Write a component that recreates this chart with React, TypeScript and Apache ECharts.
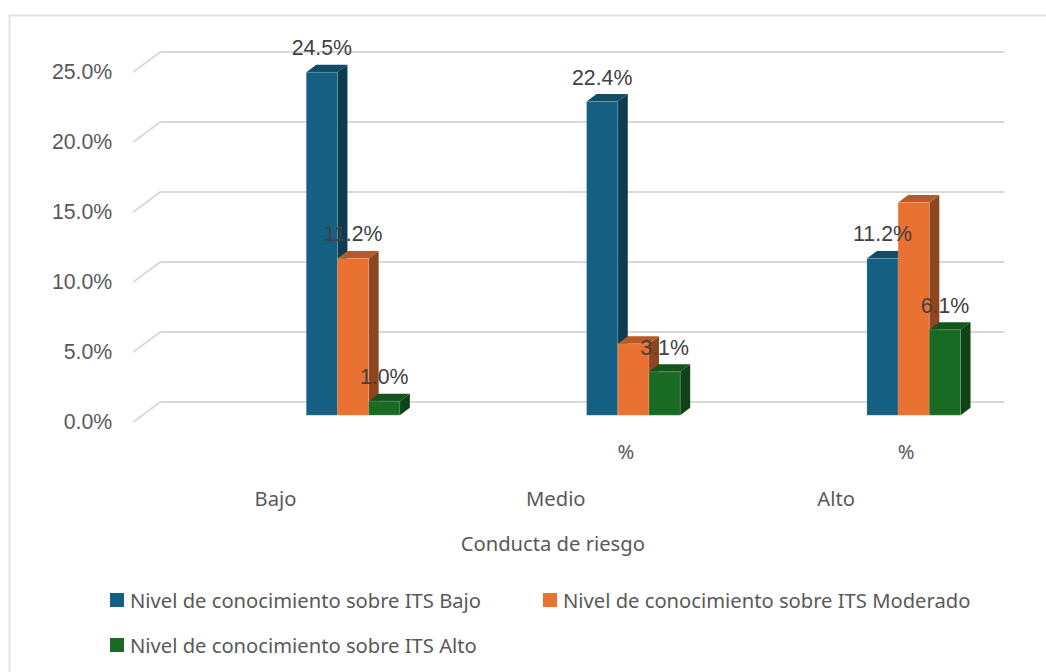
import React, { useEffect, useRef } from "react";
import * as echarts from "echarts";

const subCategories = ["", "", "", "%", "", "%"];
const categories = ["Bajo", "Medio", "Alto"];
const slots = [1, 3, 5];
const seriesNames = [
  "Nivel de conocimiento sobre ITS Bajo",
  "Nivel de conocimiento sobre ITS Moderado",
  "Nivel de conocimiento sobre ITS Alto",
];
const valuesBajo = [24.5, 22.4, 11.2];
const valuesModerado = [11.2, 5.1, 15.2];
const valuesAlto = [1.0, 3.1, 6.1];
const labelsBajo = [true, true, true];
const labelsModerado = [true, false, false];
const labelsAlto = [true, true, true];
const valueTicks = [0, 5, 10, 15, 20, 25];

const faces = [
  { front: "#156082", top: "#114c67", side: "#0d3c51" },
  { front: "#e97132", top: "#b85928", side: "#8f451f" },
  { front: "#196b24", top: "#14551c", side: "#0f4216" },
];
const TEXT_FONT = "'Noto Sans', sans-serif";
const NUM_FONT = "'Liberation Sans', sans-serif";

const BAR_W = 31.2;
const DX = 10;
const DY = 7.5;
const PLANE_DX = 7.5;
const PLANE_DY = 6.8;

function barSeries(index: number, values: number[], flags: boolean[]) {
  const face = faces[index];
  return {
    type: "custom",
    name: seriesNames[index],
    coordinateSystem: "cartesian2d",
    xAxisIndex: 0,
    yAxisIndex: 0,
    itemStyle: { color: face.front },
    encode: { x: 0, y: 1 },
    data: values.map((v, i) => [slots[i], v, flags[i] ? 1 : 0]),
    renderItem: (_p: any, api: any) => {
      const slot = api.value(0);
      const val = api.value(1);
      const show = api.value(2);
      const top = api.coord([slot, val]);
      const base = api.coord([slot, 0]);
      const x0 = top[0] + PLANE_DX + (index - 1.5) * BAR_W;
      const x1 = x0 + BAR_W;
      const y0 = top[1] - PLANE_DY;
      const y1 = base[1] - PLANE_DY;
      const children: any[] = [
        {
          type: "polygon",
          shape: { points: [[x1, y0], [x1 + DX, y0 - DY], [x1 + DX, y1 - DY], [x1, y1]] },
          style: { fill: face.side },
        },
        {
          type: "polygon",
          shape: { points: [[x0, y0], [x0 + DX, y0 - DY], [x1 + DX, y0 - DY], [x1, y0]] },
          style: { fill: face.top },
        },
        {
          type: "rect",
          shape: { x: x0, y: y0, width: BAR_W, height: y1 - y0 },
          style: { fill: face.front, stroke: "rgba(255,255,255,0.25)", lineWidth: 0.6 },
        },
      ];
      if (show) {
        children.push({
          type: "text",
          z2: 100,
          style: {
            text: val.toFixed(1) + "%",
            x: x0 + BAR_W / 2,
            y: y0 - 24,
            align: "center",
            verticalAlign: "middle",
            fill: "#404040",
            font: `21.3px ${NUM_FONT}`,
          },
        });
      }
      return { type: "group", children };
    },
  };
}

const wallSeries = {
  type: "custom",
  name: "wall",
  coordinateSystem: "cartesian2d",
  xAxisIndex: 0,
  yAxisIndex: 0,
  silent: true,
  z: 1,
  encode: { y: 0 },
  data: valueTicks.map((t) => [0, t]),
  renderItem: (p: any, api: any) => {
    const y = api.coord([0, api.value(1)])[1];
    const sys = p.coordSys;
    return {
      type: "polyline",
      shape: {
        points: [
          [sys.x - 2, y],
          [sys.x + 25, y - 20],
          [sys.x + sys.width + 28, y - 20],
        ],
      },
      style: { stroke: "#d9d9d9", lineWidth: 2, fill: "none" },
    };
  },
};

export default function App() {
  const ref = useRef<HTMLDivElement>(null);
  useEffect(() => {
    const chart = echarts.init(ref.current!, undefined, { renderer: "svg" });
    const legendBase = {
      orient: "horizontal",
      icon: "rect",
      itemWidth: 14,
      itemHeight: 14,
      padding: 0,
      textStyle: { color: "#595959", fontFamily: TEXT_FONT, fontSize: 20.2, padding: [0, 0, 0, 1] },
    };
    chart.setOption({
      animation: false,
      backgroundColor: "#ffffff",
      graphic: [
        {
          type: "rect",
          silent: true,
          shape: { x: 9.5, y: 15.5, width: 1100, height: 720 },
          style: { fill: "none", stroke: "#e2e2e2", lineWidth: 2 },
        },
      ],
      grid: { left: 135.3, top: 72, width: 841, height: 350 },
      legend: [
        { ...legendBase, left: 110, top: 590, data: [seriesNames[0]] },
        { ...legendBase, left: 543, top: 590, data: [seriesNames[1]] },
        { ...legendBase, left: 110, top: 635, data: [seriesNames[2]] },
      ],
      xAxis: [
        {
          type: "category",
          position: "bottom",
          data: subCategories,
          axisLine: { show: false },
          axisTick: { show: false },
          axisLabel: { interval: 0, margin: 19, color: "#595959", fontFamily: TEXT_FONT, fontSize: 20.2 },
        },
        {
          type: "category",
          position: "bottom",
          data: categories,
          axisLine: { show: false },
          axisTick: { show: false },
          axisLabel: { interval: 0, margin: 66, color: "#595959", fontFamily: TEXT_FONT, fontSize: 20.2 },
          name: "Conducta de riesgo",
          nameLocation: "middle",
          nameGap: 111,
          nameTextStyle: { color: "#595959", fontFamily: TEXT_FONT, fontSize: 20.2, padding: [0, 6, 0, 0] },
        },
      ],
      yAxis: {
        type: "value",
        min: 0,
        max: 25,
        interval: 5,
        axisLine: { show: false },
        axisTick: { show: false },
        splitLine: { show: false },
        axisLabel: {
          margin: 23,
          color: "#595959",
          fontFamily: NUM_FONT,
          fontSize: 21.3,
          padding: [2, 0, 0, 0],
          formatter: (v: number) => v.toFixed(1) + "%",
        },
      },
      series: [
        wallSeries,
        barSeries(0, valuesBajo, labelsBajo),
        barSeries(1, valuesModerado, labelsModerado),
        barSeries(2, valuesAlto, labelsAlto),
      ],
    });
    return () => chart.dispose();
  }, []);
  return <div ref={ref} style={{ position: "absolute", left: 0, top: 0, width: 1046, height: 672 }} />;
}
